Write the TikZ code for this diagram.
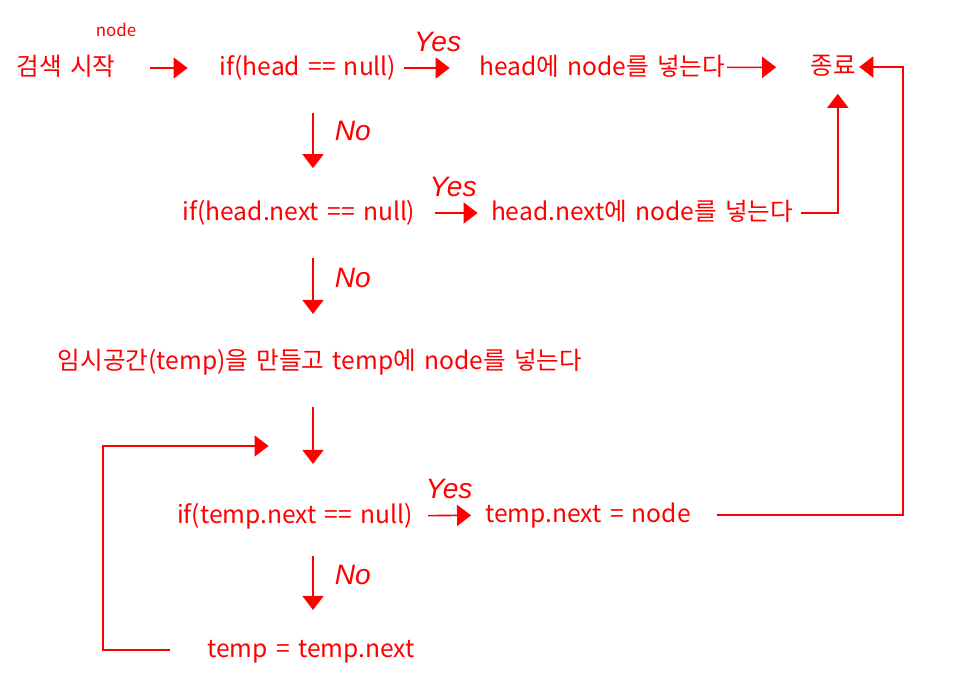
\documentclass[tikz,border=0pt]{standalone}
\usepackage{fontspec}
\setmainfont{Noto Sans CJK KR}[WordSpace=1.5]
\newfontfamily\handfont{Liberation Sans}
\usepackage{xcolor}
\usetikzlibrary{positioning,arrows.meta,calc}
\definecolor{pen}{RGB}{255,0,0}
\tikzset{flow/.style={>={Triangle[length=10pt,width=15pt]},shorten >=1pt,shorten <=1pt,line width=1.1pt,draw=pen,x=0.025cm,y=-0.025cm},
    stage/.style={text=pen,font=\fontsize{17.5}{20}\selectfont,inner sep=1pt,text height=14pt,text depth=4pt},
    note/.style={text=pen,font=\fontsize{12}{14}\selectfont,inner sep=1pt},
    answer/.style={text=pen,font=\handfont\itshape\fontsize{20}{22}\selectfont,inner sep=1pt},
    yes/.style={answer,above=10pt},
    no/.style={answer,right=14pt,pos=0.42}}

\begin{document}
\begin{tikzpicture}[flow]
    \useasboundingbox (0,0) rectangle (956,679);
    % steps
    \node[stage](start) at (66,68){검색 시작};
    \node[note](arg) at (116,30){node};
    \node[stage](if1) at (308,68){if(head == null)};
    \node[stage](ha) at (602,68){head에 node를 넣는다};
    \node[stage](done) at (833,67){종료};
    \node[stage](if2) at (299,213){if(head.next == null)};
    \node[stage](hn) at (642,213){head.next에 node를 넣는다};
    \node[stage](tmp) at (320,362){임시공간(temp)을 만들고 temp에 node를 넣는다};
    \node[stage](if3) at (295,516){if(temp.next == null)};
    \node[stage](tn) at (588,515){temp.next = node};
    \node[stage](nxt) at (311,650){temp = temp.next};
    \coordinate (col) at (313,0);
    \coordinate (rim) at (903,0);
    \coordinate (loopx) at (103,0);
    \coordinate (reentry) at (270,446);

    % across
    \path[->] (start) edge[shorten <=0.8cm, shorten >=0.75cm] (if1);
    \path[->] (if1) edge[shorten <=0.15cm, shorten >=0.68cm] node[yes](y1){Yes} (ha);
    \path[->] (ha) edge[shorten <=0pt, shorten >=0.8cm] (done);
    \path[->] (if2) edge[shorten <=0.43cm, shorten >=0.28cm] node[yes](y2){Yes} (hn);
    \path[->] (if3) edge[shorten <=0.33cm, shorten >=0.3cm] node[yes](y3){Yes} (tn);

    % down
    \path[->] (if1.south -| col) edge[shorten <=0.75cm, shorten >=0.75cm] node[no](n1){No} (if2.north -| col);
    \path[->] (if2.south -| col) edge[shorten <=0.75cm, shorten >=0.83cm] node[no](n2){No} (tmp.north -| col);
    \path[->] (tmp.south -| col) edge[shorten <=0.75cm, shorten >=0.93cm] (if3.north -| col);
    \path[->] (if3.south -| col) edge[shorten <=0.63cm, shorten >=0.63cm] node[no](n3){No} (nxt.north -| col);

    % back to the end
    \draw[->, shorten <=0.15cm, shorten >=0.3cm] (hn.east) -| ([xshift=0.12cm]done.south);
    \draw[->, shorten <=0.6cm] (tn.east) -- (tn.east -| rim) |- (done.east);
    \draw[->, shorten <=0.87cm] (nxt.west) -- (nxt.west -| loopx) |- (reentry);
\end{tikzpicture}
\end{document}
